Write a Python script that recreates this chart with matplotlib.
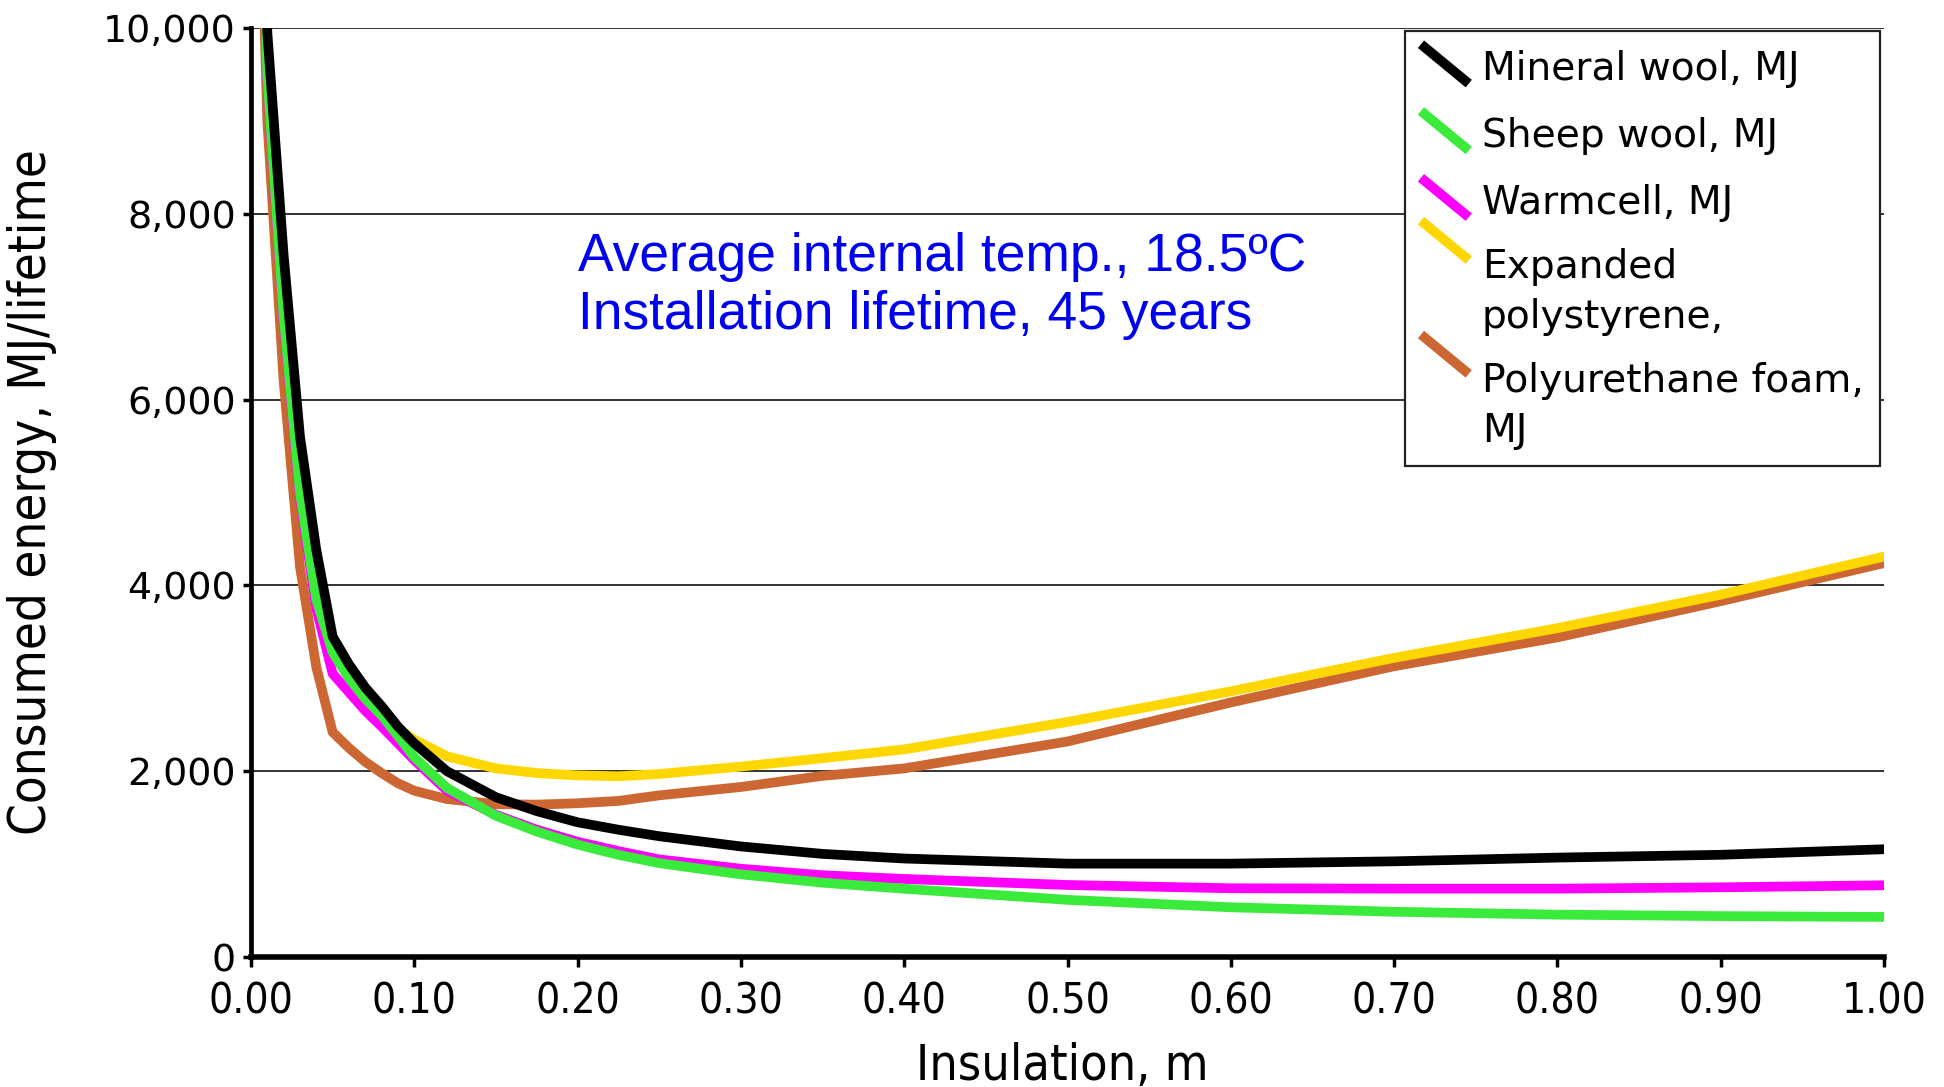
import numpy as np
import matplotlib
matplotlib.use("Agg")
import matplotlib.pyplot as plt
from matplotlib import font_manager
from matplotlib.font_manager import FontProperties
from matplotlib.legend_handler import HandlerBase
from matplotlib.lines import Line2D
from matplotlib.ticker import FuncFormatter

# ---------------- data ----------------
thickness_m = [0.005, 0.01, 0.02, 0.03, 0.04, 0.05, 0.06, 0.07, 0.08, 0.09,
               0.10, 0.12, 0.15, 0.175, 0.20, 0.225, 0.25, 0.30, 0.35, 0.40,
               0.50, 0.60, 0.70, 0.80, 0.90, 1.00]

mineral_wool = [13500, 9950, 7550, 5600, 4380, 3450, 3150, 2900, 2700, 2480,
                2300, 2000, 1720, 1570, 1450, 1370, 1300, 1190, 1110, 1060,
                1005, 1005, 1030, 1070, 1100, 1160]

sheep_wool = [13000, 9500, 6900, 5000, 3850, 3280, 3000, 2780, 2600, 2380,
              2150, 1820, 1520, 1350, 1210, 1100, 1010, 890, 800, 735,
              615, 535, 487, 456, 440, 431]

warmcell = [13000, 9450, 6850, 4950, 3750, 3050, 2850, 2650, 2480, 2300,
            2120, 1790, 1530, 1370, 1240, 1140, 1050, 950, 880, 840,
            775, 740, 736, 736, 750, 772]

expanded_polystyrene = [13000, 9500, 6900, 5000, 3850, 3300, 3020, 2800, 2620, 2450,
                        2340, 2160, 2030, 1980, 1955, 1945, 1970, 2050, 2140, 2235,
                        2530, 2860, 3220, 3540, 3900, 4310]

polyurethane_foam = [12000, 9000, 6200, 4200, 3120, 2420, 2250, 2100, 1980, 1870,
                     1790, 1700, 1645, 1640, 1655, 1680, 1740, 1830, 1950, 2030,
                     2320, 2740, 3130, 3440, 3830, 4240]

series_labels = ["Mineral wool, MJ", "Sheep wool, MJ", "Warmcell, MJ",
                 "Expanded\npolystyrene,", "Polyurethane foam,\nMJ"]
series_values = [mineral_wool, sheep_wool, warmcell, expanded_polystyrene, polyurethane_foam]
series_colors = ["#000000", "#3BEB3B", "#FF00FF", "#FFD700", "#CC6633"]
series_z = [6, 5, 4, 3, 2]

x_ticks = [0.0, 0.1, 0.2, 0.3, 0.4, 0.5, 0.6, 0.7, 0.8, 0.9, 1.0]
y_ticks = [0, 2000, 4000, 6000, 8000, 10000]

note_lines = ["Average internal temp., 18.5\u00baC", "Installation lifetime, 45 years"]

# ---------------- fonts ----------------
cond_path = None
for f in font_manager.fontManager.ttflist:
    base = f.fname.split("/")[-1]
    if base == "DejaVuSansCondensed.ttf":
        cond_path = f.fname
        break
if cond_path is None:
    for f in font_manager.fontManager.ttflist:
        base = f.fname.split("/")[-1]
        if base in ("LiberationSansNarrow-Regular.ttf",):
            cond_path = f.fname
            break


def cond_font(size):
    if cond_path:
        return FontProperties(fname=cond_path, size=size)
    return FontProperties(family="DejaVu Sans", size=size)


plt.rcParams["font.family"] = ["DejaVu Sans"]

# ---------------- figure ----------------
W, H = 1944, 1087
fig = plt.figure(figsize=(W / 100, H / 100), dpi=100, facecolor="white")
ax_left, ax_right, ax_top, ax_bottom = 251, 1884, 28, 957
ax = fig.add_axes([ax_left / W, (H - ax_bottom) / H,
                   (ax_right - ax_left) / W, (ax_bottom - ax_top) / H])

lines = []
for vals, lab, col, z in zip(series_values, series_labels, series_colors, series_z):
    ln, = ax.plot(thickness_m, vals, color=col, lw=7.0, label=lab, zorder=z,
                  solid_joinstyle="round", solid_capstyle="round")
    lines.append(ln)

ax.set_xlim(0, 1.0)
ax.set_ylim(0, 10000)
ax.set_xticks(x_ticks)
ax.set_yticks(y_ticks)
ax.xaxis.set_major_formatter(FuncFormatter(lambda v, p: f"{v:.2f}"))
ax.yaxis.set_major_formatter(FuncFormatter(lambda v, p: f"{int(round(v)):,}"))

ax.yaxis.grid(True, color="#222222", lw=1.3, zorder=0)
ax.set_axisbelow(True)
for s in ("top", "right"):
    ax.spines[s].set_visible(False)
ax.spines["left"].set_linewidth(3.4)
ax.spines["bottom"].set_linewidth(4.0)
ax.spines["left"].set_zorder(10)
ax.spines["bottom"].set_zorder(10)

ax.tick_params(axis="y", direction="out", length=6, width=2.5, pad=5,
               labelsize=27.3, colors="black")
ax.tick_params(axis="x", direction="out", length=7, width=2.5, pad=10)
for lab in ax.get_xticklabels():
    lab.set_fontproperties(cond_font(30.5))

ax.set_ylabel("Consumed energy, MJ/lifetime", fontproperties=cond_font(36.5), va="center")
ax.yaxis.set_label_coords((32 - ax_left) / (ax_right - ax_left), 0.5)
ax.set_xlabel("Insulation, m", fontproperties=cond_font(36), va="center")
ax.xaxis.set_label_coords(0.497, -(1066 - ax_bottom) / (ax_bottom - ax_top))

# annotation
ax.text(0.2, 7387, note_lines[0], family="Liberation Sans", fontsize=38.4,
        color="#0000F0", va="baseline", ha="left", zorder=7)
ax.text(0.2, 6763, note_lines[1], family="Liberation Sans", fontsize=38.4,
        color="#0000F0", va="baseline", ha="left", zorder=7)

# ---------------- legend with diagonal handles ----------------
LEG_FS = 28.2
LEG_LS = 1.40
# measure baseline gap of two-line legend labels
t1 = fig.text(0, 0, "Expanded", fontsize=LEG_FS, linespacing=LEG_LS)
t2 = fig.text(0, 0, "Expanded\npolystyrene,", fontsize=LEG_FS, linespacing=LEG_LS)
rend = fig.canvas.get_renderer()
gap_px = t2.get_window_extent(rend).height - t1.get_window_extent(rend).height
gap_pt = gap_px * 72.0 / fig.dpi
t1.remove()
t2.remove()


class DiagonalHandler(HandlerBase):
    def __init__(self, lift_pt=0.0, **kw):
        super().__init__(**kw)
        self.lift_pt = lift_pt

    def create_artists(self, legend, orig_handle, xdescent, ydescent,
                       width, height, fontsize, trans):
        yc = (height - ydescent) / 2.0 + self.lift_pt
        half = 0.5 * height
        x0 = -xdescent
        ln = Line2D([x0, x0 + width], [yc + half, yc - half],
                    color=orig_handle.get_color(), lw=orig_handle.get_linewidth(),
                    solid_capstyle="butt")
        ln.set_transform(trans)
        return [ln]


hmap = {}
for ln, lab in zip(lines, series_labels):
    nl = lab.count("\n")
    hmap[ln] = DiagonalHandler(lift_pt=nl * gap_pt)

leg = ax.legend(handles=lines, labels=series_labels, handler_map=hmap,
                loc="upper right",
                bbox_to_anchor=(1 - 4 / (ax_right - ax_left), 1 - 3 / (ax_bottom - ax_top)),
                borderaxespad=0, frameon=True, fancybox=False, framealpha=1,
                edgecolor="#222222", prop={"size": LEG_FS},
                handlelength=1.22, handleheight=1.17, handletextpad=0.33,
                borderpad=0.42, labelspacing=0.66)
leg.get_frame().set_linewidth(1.6)
leg.set_zorder(20)
for t in leg.get_texts():
    t.set_linespacing(LEG_LS)

fig.savefig("out.png", dpi=100, facecolor="white")
